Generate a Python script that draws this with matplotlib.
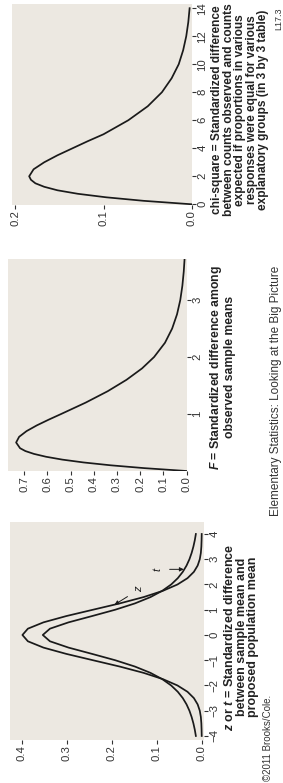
import matplotlib
matplotlib.use('Agg')
import matplotlib.pyplot as plt

plt.rcParams['font.family'] = ['Liberation Sans', 'DejaVu Sans']
plt.rcParams['mathtext.fontset'] = 'custom'
plt.rcParams['mathtext.rm'] = 'Liberation Sans:bold'
plt.rcParams['mathtext.it'] = 'Liberation Sans:bold:italic'
plt.rcParams['mathtext.bf'] = 'Liberation Sans:bold'

# chi-square curve (3 by 3 table)
chi_x = [0, 0.25, 0.5, 0.75, 1, 1.25, 1.5, 1.75, 2, 2.5, 3, 3.5, 4, 4.5, 5,
         6, 7, 8, 9, 10, 11, 12, 13, 14]
chi_y = [0, 0.055, 0.097, 0.129, 0.152, 0.167, 0.177, 0.182, 0.184, 0.179,
         0.167, 0.152, 0.135, 0.118, 0.100, 0.072, 0.050, 0.034, 0.023,
         0.015, 0.010, 0.0065, 0.0042, 0.0027]

# F curve
f_x = [0, 0.05, 0.1, 0.15, 0.2, 0.25, 0.3, 0.35, 0.4, 0.5, 0.6, 0.7, 0.8,
       0.9, 1.0, 1.2, 1.4, 1.6, 1.8, 2.0, 2.25, 2.5, 2.75, 3.0, 3.25, 3.5, 3.75]
f_y = [0, 0.181, 0.327, 0.444, 0.536, 0.606, 0.658, 0.695, 0.718, 0.735,
       0.722, 0.690, 0.646, 0.595, 0.541, 0.435, 0.340, 0.259, 0.192, 0.140,
       0.093, 0.062, 0.041, 0.027, 0.018, 0.012, 0.008]

# z and t curves
z_x = [-4, -3.75, -3.5, -3.25, -3, -2.75, -2.5, -2.25, -2, -1.75, -1.5, -1.25,
       -1, -0.75, -0.5, -0.25, 0, 0.25, 0.5, 0.75, 1, 1.25, 1.5, 1.75, 2,
       2.25, 2.5, 2.75, 3, 3.25, 3.5, 3.75, 4]
z_y = [0.0001, 0.0004, 0.0009, 0.0020, 0.0044, 0.0091, 0.0175, 0.0317,
       0.0540, 0.0863, 0.1295, 0.1826, 0.2420, 0.3011, 0.3521, 0.3867,
       0.3989, 0.3867, 0.3521, 0.3011, 0.2420, 0.1826, 0.1295, 0.0863,
       0.0540, 0.0317, 0.0175, 0.0091, 0.0044, 0.0020, 0.0009, 0.0004, 0.0001]
t_y = [0.0131, 0.0155, 0.0186, 0.0225, 0.0274, 0.0338, 0.0422, 0.0533,
       0.0680, 0.0878, 0.1141, 0.1487, 0.1925, 0.2438, 0.2963, 0.3376,
       0.3536, 0.3376, 0.2963, 0.2438, 0.1925, 0.1487, 0.1141, 0.0878,
       0.0680, 0.0533, 0.0422, 0.0338, 0.0274, 0.0225, 0.0186, 0.0155, 0.0131]

chi_ticks = [0, 2, 4, 6, 8, 10, 12, 14]
chi_dens_ticks = [0, 0.1, 0.2]
f_ticks = [1, 2, 3]
f_dens_ticks = [0, 0.1, 0.2, 0.3, 0.4, 0.5, 0.6, 0.7]
z_ticks = [-4, -3, -2, -1, 0, 1, 2, 3, 4]
z_dens_ticks = [0, 0.1, 0.2, 0.3, 0.4]

chi_label = ('chi-square = Standardized difference\n'
             'between counts observed and counts\n'
             'expected if proportions in various\n'
             'responses were equal for various\n'
             'explanatory groups (in 3 by 3 table)')
f_label = '$F$ = Standardized difference among\nobserved sample means'
z_label = ('$z$ or $t$ = Standardized difference\n'
           'between sample mean and\nproposed population mean')

W, H = 283, 783
fig = plt.figure(figsize=(W / 100, H / 100), dpi=100)
bg = '#ece8e1'
ink = '#1a1a1a'


def panel(left, top, right, bottom, dlim, vlim, dticks, vticks):
    ax = fig.add_axes([left / W, 1 - bottom / H, (right - left) / W, (bottom - top) / H])
    ax.set_facecolor(bg)
    for s in ax.spines.values():
        s.set_visible(False)
    ax.set_xlim(dlim)
    ax.set_ylim(vlim)
    ax.yaxis.tick_right()
    ax.set_xticks(dticks, ['%.1f' % d for d in dticks])
    ax.set_yticks(vticks, ['%d' % v if v >= 0 else '\u2212%d' % -v for v in vticks])
    ax.tick_params(direction='out', length=3, width=0.8, labelsize=8.2,
                   color='#333333', labelcolor='#333333', pad=1)
    for lbl in ax.get_xticklabels():
        lbl.set_rotation(90)
    for lbl in ax.get_yticklabels():
        lbl.set_rotation(90)
        lbl.set_va('center')
    return ax


def label(x, y, s, size, ls):
    fig.text(x / W, 1 - y / H, s, rotation=90, fontsize=size, fontweight='bold',
             ha='left', va='center', multialignment='center', linespacing=ls,
             color='#222222')


ax1 = panel(12, 4, 192, 205, (0.2034, 0), (-0.05, 14.3), chi_dens_ticks, chi_ticks)
ax1.plot(chi_y, chi_x, color=ink, lw=1.25)
label(211, 110, chi_label, 8.6, 0.95)

ax2 = panel(8, 259, 187, 471, (0.77, -0.002), (0, 3.72), f_dens_ticks, f_ticks)
ax2.plot(f_y, f_x, color=ink, lw=1.25)
label(208, 367, f_label, 8.8, 1.05)

ax3 = panel(10, 522, 204, 740, (0.4265, -0.005), (-4.16, 4.475), z_dens_ticks, z_ticks)
ax3.plot(z_y, z_x, color=ink, lw=1.25)
ax3.plot(t_y, z_x, color=ink, lw=1.25)
label(223, 637, z_label, 9.0, 0.95)

ax3.annotate('z', xy=(0.194, 1.2), xytext=(0.14, 1.8), fontsize=8, style='italic',
             rotation=90, ha='center', va='center', color=ink,
             arrowprops=dict(arrowstyle='-|>', lw=0.7, color=ink, mutation_scale=6,
                             shrinkA=3, shrinkB=0))
ax3.annotate('t', xy=(0.040, 2.6), xytext=(0.098, 2.6), fontsize=8, style='italic',
             rotation=90, ha='center', va='center', color=ink,
             arrowprops=dict(arrowstyle='-|>', lw=0.7, color=ink, mutation_scale=6,
                             shrinkA=3, shrinkB=0))

fig.text(268 / W, 1 - 781 / H, '\u00a92011 Brooks/Cole.', rotation=90, fontsize=7,
         ha='center', va='bottom', color='#333333')
fig.text(270 / W, 1 - 516 / H, 'Elementary Statistics: Looking at the Big Picture',
         rotation=90, fontsize=8.5, ha='left', va='bottom', color='#333333')
fig.text(274 / W, 1 - 30 / H, 'L17.3', rotation=90, fontsize=6.5,
         ha='left', va='bottom', color='#333333')

fig.savefig('out.png', dpi=100)
